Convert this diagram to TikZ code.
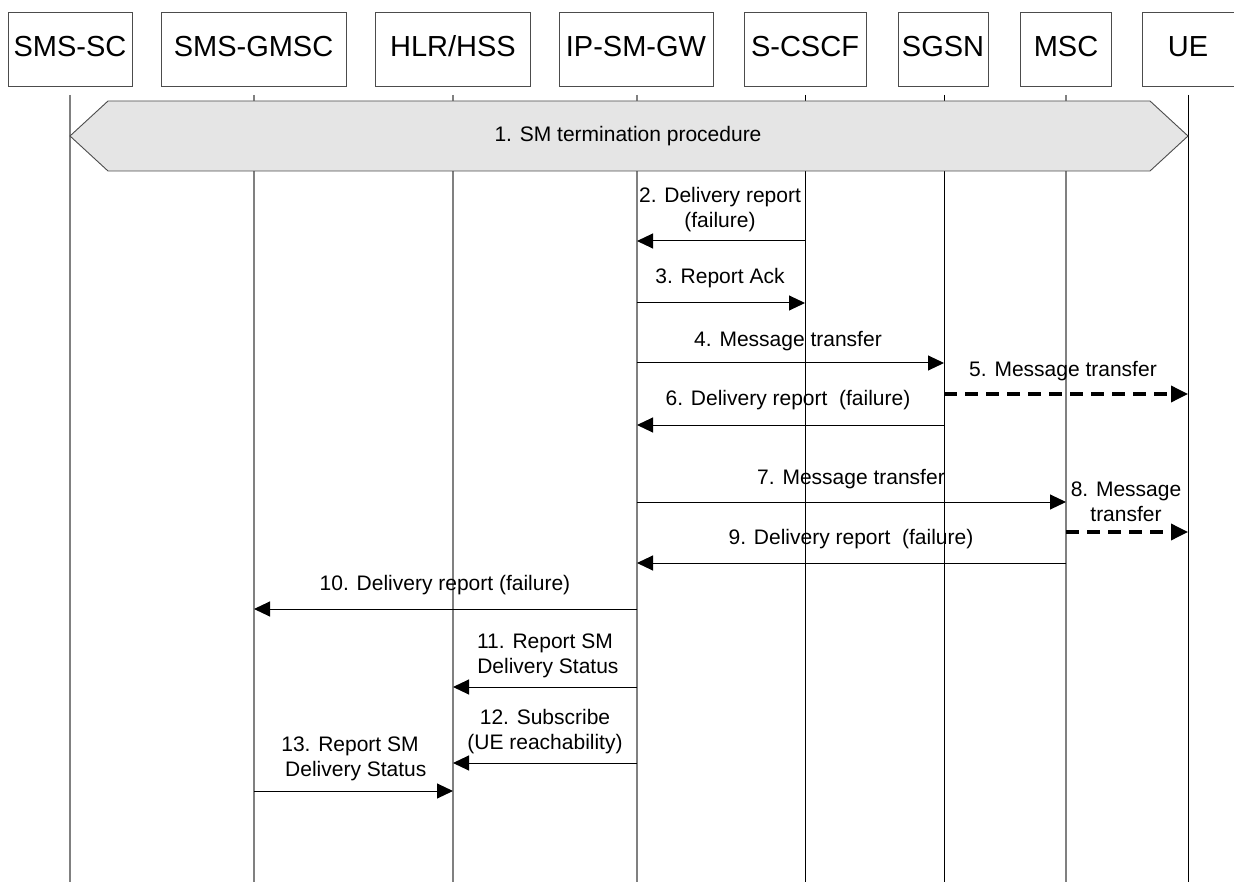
\documentclass[tikz,border=0pt]{standalone}
\usepackage{fontspec}
\setmainfont{Liberation Sans}
\usetikzlibrary{arrows.meta}
\begin{document}
\begin{tikzpicture}[x=1pt,y=-1pt,
  ent/.style={draw=black!70, fill=white, line width=0.9pt, minimum height=74pt, inner sep=0pt, text height=21pt, text depth=6pt, font=\fontsize{29}{32}\selectfont},
  lifeg/.style={draw=black!50, line width=1.3pt},
  lifek/.style={draw=black, line width=1pt},
  msg/.style={-{Triangle[length=16pt,width=15pt]}, line width=1pt, draw=black},
  dmsg/.style={-{Triangle[length=17pt,width=16pt]}, line width=3.5pt, dash pattern=on 13pt off 8pt, draw=black},
  lbl/.style={font=\fontsize{21}{25}\selectfont, align=center, inner sep=0pt},
  banner/.style={draw=black!70, fill=black!10, line width=0.9pt}]
\useasboundingbox (0,0) rectangle (1234,882);
% entities
\node[ent, minimum width=124pt] (smssc) at (70,49) {SMS-SC};
\node[ent, minimum width=185pt] (gmsc) at (253.5,49) {SMS-GMSC};
\node[ent, minimum width=155pt] (hlr) at (453,49) {HLR/HSS};
\node[ent, minimum width=154pt] (ipsm) at (636,49) {IP-SM-GW};
\node[ent, minimum width=122pt] (cscf) at (805,49) {S-CSCF};
\node[ent, minimum width=90pt] (sgsn) at (943,49) {SGSN};
\node[ent, minimum width=91pt] (msc) at (1066,49) {MSC};
\node[ent, minimum width=92pt] (ue) at (1188,49) {UE};
% lifeline ends
\foreach \n/\x in {smssc/70,gmsc/254,hlr/453,ipsm/637,cscf/805,sgsn/944,msc/1066,ue/1188}{
  \coordinate (\n t) at (\x,95);
  \coordinate (\n b) at (\x,882);
}
\draw[lifeg] (smssct) -- (smsscb);
\draw[lifeg] (gmsct) -- (gmscb);
\draw[lifeg] (hlrt) -- (hlrb);
\draw[lifeg] (ipsmt) -- (ipsmb);
\draw[lifek] (cscft) -- (cscfb);
\draw[lifek] (sgsnt) -- (sgsnb);
\draw[lifeg] (msct) -- (mscb);
\draw[lifek] (uet) -- (ueb);
% banner
\draw[banner] (70,136) -- (108,101) -- (1150,101) -- (1188,136) -- (1150,171) -- (108,171) -- cycle;
\node[lbl] (b1) at (628,136) {1. SM termination procedure};
% message endpoints
\foreach \n/\a/\b/\y in {m2/cscf/ipsm/241, m3/ipsm/cscf/303, m4/ipsm/sgsn/363, m5/sgsn/ue/394,
  m6/sgsn/ipsm/425, m7/ipsm/msc/502, m8/msc/ue/532, m9/msc/ipsm/563, m10/ipsm/gmsc/609,
  m11/ipsm/hlr/687, m12/ipsm/hlr/763, m13/gmsc/hlr/791}{
  \coordinate (\n s) at (\a t |- 0,\y);
  \coordinate (\n e) at (\b t |- 0,\y);
}
\draw[msg] (m2s) -- (m2e);
\draw[msg] (m3s) -- (m3e);
\draw[msg] (m4s) -- (m4e);
\draw[dmsg] (m5s) -- (m5e);
\draw[msg] (m6s) -- (m6e);
\draw[msg] (m7s) -- (m7e);
\draw[dmsg] (m8s) -- (m8e);
\draw[msg] (m9s) -- (m9e);
\draw[msg] (m10s) -- (m10e);
\draw[msg] (m11s) -- (m11e);
\draw[msg] (m12s) -- (m12e);
\draw[msg] (m13s) -- (m13e);
% labels
\node[lbl] (l2) at (720,210) {2. Delivery report\\(failure)};
\node[lbl] (l3) at (720,278) {3. Report Ack};
\node[lbl] (l4) at (788,341) {4. Message transfer};
\node[lbl] (l5) at (1063,371) {5. Message transfer};
\node[lbl] (l6) at (788,400) {6. Delivery report\ \ (failure)};
\node[lbl] (l7) at (851,479) {7. Message transfer};
\node[lbl] (l8) at (1126,502) {8. Message\\transfer};
\node[lbl] (l9) at (851,539) {9. Delivery report\ \ (failure)};
\node[lbl] (l10) at (445,585) {10. Delivery report (failure)};
\node[lbl] (l11) at (545,656) {11. Report SM\\\ Delivery Status};
\node[lbl] (l12) at (545,732) {12. Subscribe\\(UE reachability)};
\node[lbl] (l13) at (350,759) {13. Report SM\\\ \ Delivery Status};
\end{tikzpicture}
\end{document}
